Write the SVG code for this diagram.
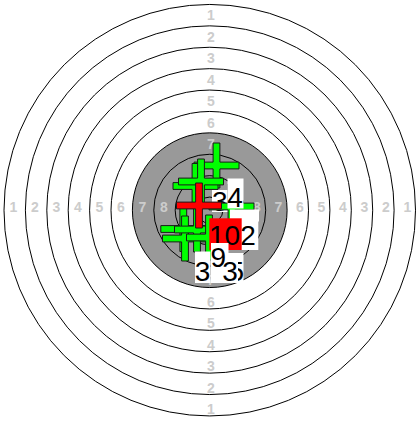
<svg xmlns="http://www.w3.org/2000/svg" width="417" height="422" viewBox="0 0 417 422">
<style>
.ring{fill:none;stroke:#000;stroke-width:1}
.rl{font-family:"Liberation Sans",Arial,sans-serif;font-weight:bold;font-size:14px;fill:#ccc;text-anchor:middle}
.g{fill:#00ff00;stroke:#1a1a1a;stroke-width:1}
.r{fill:#ff0000;stroke:#1a1a1a;stroke-width:1}
.lb{fill:#fff}
.lt{font-family:"Liberation Sans",Arial,sans-serif;font-size:28px;fill:#000}
</style>
<defs>
<path id="cross" d="M-3.4,-22.5H3.4V-3.4H22.5V3.4H3.4V22.5H-3.4V3.4H-22.5V-3.4H-3.4Z"/>
</defs>
<rect width="417" height="422" fill="#fff"/>
<g id="target">
<circle cx="209.75" cy="210.2" r="77.35" fill="#999"/>
<circle class="ring" cx="209.75" cy="210.2" r="205.75"/>
<circle class="ring" cx="209.75" cy="210.2" r="184.35"/>
<circle class="ring" cx="209.75" cy="210.2" r="162.95"/>
<circle class="ring" cx="209.75" cy="210.2" r="141.55"/>
<circle class="ring" cx="209.75" cy="210.2" r="120.15"/>
<circle class="ring" cx="209.75" cy="210.2" r="98.75"/>
<circle class="ring" cx="209.75" cy="210.2" r="77.35"/>
<circle class="ring" cx="209.75" cy="210.2" r="55.95"/>
<circle class="ring" cx="209.75" cy="210.2" r="34.55"/>
<circle class="ring" cx="209.75" cy="210.2" r="13.15"/>
</g>
<g id="ring-labels">
<text class="rl" x="211" y="20">1</text>
<text class="rl" x="211" y="41.5">2</text>
<text class="rl" x="211" y="63">3</text>
<text class="rl" x="211" y="84.5">4</text>
<text class="rl" x="211" y="106">5</text>
<text class="rl" x="211" y="127.5">6</text>
<text class="rl" x="211" y="149">7</text>
<text class="rl" x="211" y="414">1</text>
<text class="rl" x="211" y="392.5">2</text>
<text class="rl" x="211" y="371">3</text>
<text class="rl" x="211" y="349.5">4</text>
<text class="rl" x="211" y="328">5</text>
<text class="rl" x="211" y="306.5">6</text>
<text class="rl" x="211" y="285">7</text>
<text class="rl" x="13.3" y="211.5">1</text>
<text class="rl" x="34.8" y="211.5">2</text>
<text class="rl" x="56.3" y="211.5">3</text>
<text class="rl" x="77.8" y="211.5">4</text>
<text class="rl" x="99.3" y="211.5">5</text>
<text class="rl" x="120.8" y="211.5">6</text>
<text class="rl" x="142.3" y="211.5">7</text>
<text class="rl" x="163.8" y="211.5">8</text>
<text class="rl" x="407.3" y="211.5">1</text>
<text class="rl" x="385.8" y="211.5">2</text>
<text class="rl" x="364.3" y="211.5">3</text>
<text class="rl" x="342.8" y="211.5">4</text>
<text class="rl" x="321.3" y="211.5">5</text>
<text class="rl" x="299.8" y="211.5">6</text>
<text class="rl" x="278.3" y="211.5">7</text>
<text class="rl" x="256.8" y="211.5">8</text>
</g>
<g id="shots">
<g id="label-3a"><rect class="lb" x="212" y="190" width="16" height="22"/><text class="lt" x="212" y="211">3</text></g>
<g id="shot-a"><use href="#cross" class="g" transform="translate(216.5,165.5)"/></g>
<g id="shot-b"><use href="#cross" class="g" transform="translate(195.5,186)"/></g>
<g id="shot-c"><use href="#cross" class="g" transform="translate(201,181.5)"/></g>
<g id="shot-d"><use href="#cross" class="g" transform="translate(231.5,206.5)"/></g>
<g id="label-4"><rect class="lb" x="227.5" y="178.5" width="16" height="30"/><text class="lt" x="227.3" y="207">4</text></g>
<g id="shot-e"><use href="#cross" class="g" transform="translate(183.3,229)"/></g>
<g id="shot-f"><use href="#cross" class="g" transform="translate(185,238.5)"/></g>
<g id="shot-g"><use href="#cross" class="g" transform="translate(197,229.5)"/></g>
<g id="shot-h"><use href="#cross" class="g" transform="translate(209,237.5)"/></g>
<g id="shot-red"><use href="#cross" class="r" transform="translate(199,205.5)"/></g>
<rect class="lb" x="230" y="209.5" width="29" height="12"/>
<g id="label-5"><rect class="lb" x="228" y="253" width="15.5" height="30"/><text class="lt" x="228.5" y="280.5">5</text></g>
<g id="label-2"><rect class="lb" x="240" y="218.5" width="18.3" height="31.5"/><text class="lt" x="240.3" y="244.5">2</text></g>
<g id="label-10"><rect x="209.3" y="218.3" width="32.4" height="31.7" fill="#ff0000"/><text class="lt" x="209" y="244.5">10</text></g>
<g id="label-3b"><rect class="lb" x="195" y="251.5" width="15.5" height="31.5"/><text class="lt" x="194.8" y="280.5">3</text></g>
<g id="label-3c"><rect class="lb" x="211" y="253" width="27" height="30"/><text class="lt" x="222.3" y="280.5">3</text></g>
<g id="label-9"><rect class="lb" x="211" y="243" width="17.5" height="16"/><text class="lt" x="210.5" y="267">9</text></g>
</g>
</svg>
